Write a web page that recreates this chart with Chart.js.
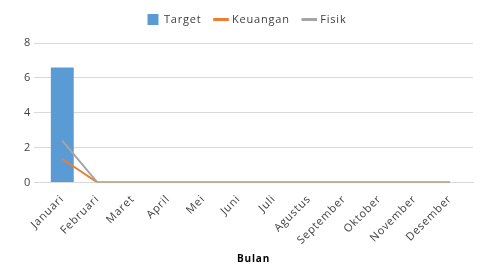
<!doctype html>
<html lang="id">
<head>
    <meta charset="utf-8">
    <title>Realisasi per Bulan</title>
    <script src="https://cdn.jsdelivr.net/npm/chart.js@4.4.1/dist/chart.umd.min.js"></script>
    <style>
        html, body { margin: 0; padding: 0; background: #fff; }
        #wrap { width: 486px; height: 278px; }
    </style>
</head>
<body>
<div id="wrap">
    <canvas id="myChart"></canvas>
</div>
<script>
    const months = ['Januari', 'Februari', 'Maret', 'April', 'Mei', 'Juni', 'Juli',
        'Agustus', 'September', 'Oktober', 'November', 'Desember']
    const target = [6.6, 0, 0, 0, 0, 0, 0, 0, 0, 0, 0, 0]
    const keuangan = [1.35, 0, 0, 0, 0, 0, 0, 0, 0, 0, 0, 0]
    const fisik = [2.4, 0, 0, 0, 0, 0, 0, 0, 0, 0, 0, 0]
    const legendOrder = ['Target', 'Keuangan', 'Fisik']

    const fontFamily = '"Open Sans", "Noto Sans", sans-serif'

    // office-style tweaks: letter spacing, legend gap, plot area a bit wider than the categories
    const officeLook = {
        id: 'officeLook',
        beforeInit(chart) {
            const fit = chart.legend.fit
            chart.legend.fit = function () {
                fit.call(this)
                this.height += 8
            }
        },
        beforeLayout(chart) {
            chart.ctx.letterSpacing = '0.8px'
        },
        afterLayout(chart) {
            const x = chart.scales.x
            x._startValue -= 0.3
            x._valueRange += 0.45
        },
        beforeDraw(chart) {
            chart.ctx.letterSpacing = '0.8px'
        }
    }

    const config = {
        data: {
            labels: months,
            datasets: [
                {
                    type: 'line',
                    label: 'Keuangan',
                    data: keuangan,
                    borderColor: '#ed7d31',
                    backgroundColor: '#ed7d31',
                    borderWidth: 2,
                    pointRadius: 0,
                    pointStyle: 'line',
                    order: 1
                },
                {
                    type: 'line',
                    label: 'Fisik',
                    data: fisik,
                    borderColor: '#a5a5a5',
                    backgroundColor: '#a5a5a5',
                    borderWidth: 2,
                    pointRadius: 0,
                    pointStyle: 'line',
                    order: 0
                },
                {
                    type: 'bar',
                    label: 'Target',
                    data: target,
                    backgroundColor: '#5b9bd5',
                    categoryPercentage: 0.65,
                    barPercentage: 1,
                    pointStyle: 'rect',
                    order: 2
                }
            ]
        },
        options: {
            responsive: true,
            maintainAspectRatio: false,
            animation: false,
            layout: { padding: { left: 21, right: 13, top: 0, bottom: 9 } },
            plugins: {
                legend: {
                    position: 'top',
                    labels: {
                        usePointStyle: true,
                        boxWidth: 12,
                        boxHeight: 12,
                        padding: 14,
                        color: '#404040',
                        font: { family: fontFamily, size: 11 },
                        sort: (a, b) => legendOrder.indexOf(a.text) - legendOrder.indexOf(b.text),
                        filter: (item) => {
                            if (item.pointStyle === 'line') item.lineWidth = 3
                            return true
                        }
                    }
                },
                tooltip: { enabled: false }
            },
            scales: {
                x: {
                    grid: { display: false },
                    border: { color: '#d9d9d9' },
                    ticks: {
                        color: '#404040',
                        font: { family: fontFamily, size: 11 },
                        maxRotation: 45,
                        minRotation: 45,
                        padding: 2
                    },
                    title: {
                        display: true,
                        text: 'Bulan',
                        color: '#000',
                        font: { family: fontFamily, size: 10, weight: 'bold' },
                        padding: { top: 4 }
                    }
                },
                y: {
                    min: 0,
                    max: 8,
                    ticks: {
                        stepSize: 2,
                        color: '#404040',
                        font: { family: fontFamily, size: 11 },
                        padding: 3
                    },
                    grid: { color: '#d9d9d9', drawTicks: false },
                    border: { display: false }
                }
            }
        },
        plugins: [officeLook]
    }

    const ctx = document.getElementById('myChart')
    const myChart = new Chart(ctx, config)
</script>
</body>
</html>
